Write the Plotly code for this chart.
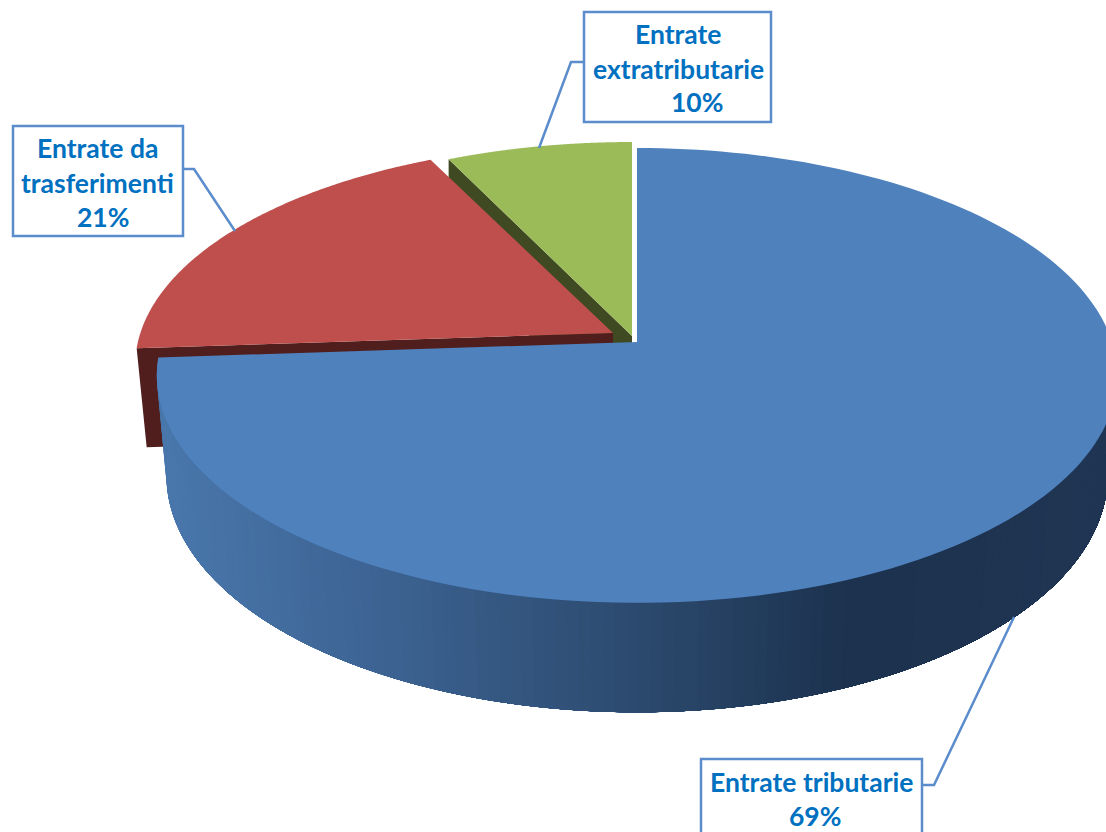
import numpy as np
import plotly.graph_objects as go

# Data
categories = ["Entrate tributarie", "Entrate da trasferimenti", "Entrate extratributarie"]
labelled_percent = [69, 21, 10]          # percentages printed in the callouts
drawn_share = [73.9, 18.9, 7.2]          # slice sizes as actually drawn in the picture

# Styles
TOP = {"blue": "#4f81bd", "red": "#be4f4d", "green": "#9bbb59"}
FACE = {"red": "#4f1e1d", "green": "#3f4a22"}
LABEL = "#0070c0"
BOX = "#5b8ccb"
WALL_STOPS_X = [165, 400, 640, 850, 1106]
WALL_STOPS_RGB = [(74, 120, 173), (60, 98, 145), (44, 74, 110), (28, 50, 78), (32, 54, 84)]

# Projection of the tilted pie disc
C = -0.147; A = 222.5; RX = 475.0
APEX = {"blue": (637, 342), "red": (613, 333), "green": (632, 336)}
SCALE = {"blue": (1.0, 1.0), "red": (0.995, 0.98), "green": (1.0, 1.0)}
DEPTH_EDGE = 99


def project(theta, apex, sx=1.0, sy=1.0):
    u, v = np.sin(theta), -np.cos(theta)
    d = C * v + 1
    return apex[0] + sx * RX * u / d, apex[1] + sy * A * v / d


def bottom_ring(theta):
    return project(theta, (637, 441), 0.98, 1.04)


fracs = np.array(drawn_share) / sum(drawn_share)
ends = np.cumsum(fracs) * 2 * np.pi
starts = ends - fracs * 2 * np.pi

fig = go.Figure()


def poly(xs, ys, color):
    fig.add_trace(go.Scatter(x=list(xs), y=list(ys), fill="toself", fillcolor=color, mode="none",
                             hoverinfo="skip", showlegend=False))


def sector(i, name):
    th = np.linspace(starts[i], ends[i], 160)
    x, y = project(th, APEX[name], *SCALE[name])
    return np.r_[APEX[name][0], x, APEX[name][0]], np.r_[APEX[name][1], y, APEX[name][1]]


# green slice: cut face then top
gx, gy = project(ends[1], APEX["green"])
ax, ay = APEX["green"]
poly([gx, ax, ax, gx], [gy, ay, ay + DEPTH_EDGE, gy + DEPTH_EDGE], FACE["green"])
poly(*sector(2, "green"), TOP["green"])

# red slice: cut face then top
rx0, ry0 = project(starts[1], APEX["red"], *SCALE["red"])
ax, ay = APEX["red"]
poly([rx0, ax, ax, rx0 + 10], [ry0, ay, ay + DEPTH_EDGE, ry0 + DEPTH_EDGE], FACE["red"])
poly(*sector(1, "red"), TOP["red"])

# blue outer wall, shaded in overlapping thin strips painted left to right
edges = np.linspace(ends[0], np.pi * 0.52, 141)
for t0, t1 in zip(edges[:-1], edges[1:]):
    tt = np.linspace(t0, edges[-1], 40)          # each strip runs on to the wall's end; later strips cover it
    x1, y1 = project(tt, APEX["blue"])
    x2, y2 = bottom_ring(tt)
    xm = bottom_ring(np.array([(t0 + t1) / 2]))[0][0]
    rgb = [np.interp(xm, WALL_STOPS_X, [c[k] for c in WALL_STOPS_RGB]) for k in range(3)]
    poly(np.r_[x1, x2[::-1]], np.r_[y1, y2[::-1]],
         "rgb(%d,%d,%d)" % tuple(rgb))

# blue top
poly(*sector(0, "blue"), TOP["blue"])

# Callouts
shapes = []
boxes = [(701, 759, 922, 850), (13, 126, 183, 236), (584, 12, 771, 122)]
leaders = [[(922, 785), (934, 785), (1014, 617)],
           [(183, 169), (194, 169), (235, 231)],
           [(584, 62), (571, 62), (539, 148)]]
for b, l in zip(boxes, leaders):
    shapes.append(dict(type="rect", x0=b[0], y0=b[1], x1=b[2], y1=b[3], xref="x", yref="y",
                       line=dict(color=BOX, width=2.5), fillcolor="white", layer="above"))
    path = "M" + " L".join(f"{p[0]},{p[1]}" for p in l)
    shapes.append(dict(type="path", path=path, xref="x", yref="y",
                       line=dict(color=BOX, width=2.5), layer="above"))

lines = [
    [(categories[0], 811, 782), (f"{labelled_percent[0]}%", 815, 816)],
    [("Entrate da", 97, 148), ("trasferimenti", 97, 183), (f"{labelled_percent[1]}%", 103, 217)],
    [("Entrate", 678, 34), ("extratributarie", 678, 69), (f"{labelled_percent[2]}%", 697, 102)],
]
annotations = []
for group in lines:
    for txt, x, y in group:
        annotations.append(dict(text=f"<b>{txt}</b>", x=x, y=y, xref="x", yref="y", showarrow=False,
                                xanchor="center", yanchor="middle",
                                font=dict(family="Lato", size=26.5, color=LABEL)))

fig.update_layout(
    width=1106, height=832, margin=dict(l=0, r=0, t=0, b=0),
    paper_bgcolor="white", plot_bgcolor="white", showlegend=False,
    xaxis=dict(range=[0, 1106], visible=False, fixedrange=True),
    yaxis=dict(range=[832, 0], visible=False, fixedrange=True),
    shapes=shapes, annotations=annotations,
)
fig.write_html("out.html", config={"displayModeBar": False},
               post_script="document.body.style.margin='0';document.documentElement.style.overflow='hidden';")
